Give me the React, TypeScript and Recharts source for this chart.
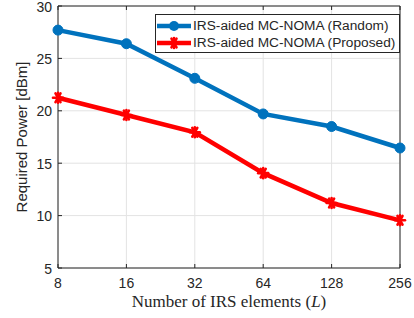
import React from "react"
import { CartesianGrid, Legend, Line, LineChart, XAxis, YAxis } from "recharts"

const elements = [8, 16, 32, 64, 128, 256]
const randomPower = [27.7, 26.4, 23.1, 19.7, 18.5, 16.45]
const proposedPower = [21.25, 19.6, 17.95, 14.05, 11.2, 9.55]
const yTicks = [5, 10, 15, 20, 25, 30]

const data = elements.map((L, i) => ({ L, random: randomPower[i], proposed: proposedPower[i] }))

const BLUE = "#0072BD"
const RED = "#FF0000"
const AXIS = "#262626"
const FONT = "'Liberation Sans', Arial, sans-serif"

const BottomTick = (props: any) => {
    const { x, y, payload } = props
    return (
        <g>
            <line x1={x} y1={y} x2={x} y2={y - 4} stroke={AXIS} strokeWidth={1} />
            <text x={x} y={y + 20} textAnchor="middle" fontSize={14} fontFamily={FONT} fill={AXIS}>
                {payload.value}
            </text>
        </g>
    )
}

const TopTick = (props: any) => {
    const { x, y } = props
    return <line x1={x} y1={y} x2={x} y2={y + 4} stroke={AXIS} strokeWidth={1} />
}

const LeftTick = (props: any) => {
    const { x, y, payload } = props
    return (
        <g>
            <line x1={x} y1={y} x2={x + 4} y2={y} stroke={AXIS} strokeWidth={1} />
            <text x={x - 6} y={y + 5.5} textAnchor="end" fontSize={14} fontFamily={FONT} fill={AXIS}>
                {payload.value}
            </text>
        </g>
    )
}

const RightTick = (props: any) => {
    const { x, y } = props
    return <line x1={x} y1={y} x2={x - 4} y2={y} stroke={AXIS} strokeWidth={1} />
}

const CircleDot = (props: any) => {
    const { cx, cy, index } = props
    return <circle key={`c-${index}`} cx={cx} cy={cy} r={5} fill={BLUE} stroke={BLUE} strokeWidth={1} />
}

const StarDot = (props: any) => {
    const { cx, cy, index } = props
    const r = 5
    const d = r * 0.866
    return (
        <g key={`s-${index}`} stroke={RED} strokeWidth={2.6} strokeLinecap="round">
            <line x1={cx - r} y1={cy} x2={cx + r} y2={cy} />
            <line x1={cx - r / 2} y1={cy - d} x2={cx + r / 2} y2={cy + d} />
            <line x1={cx - r / 2} y1={cy + d} x2={cx + r / 2} y2={cy - d} />
            <line x1={cx} y1={cy - r} x2={cx} y2={cy + r} />
        </g>
    )
}

const XLabel = () => (
    <text x={229} y={307} textAnchor="middle" fontSize={17} fontFamily="'Liberation Serif', 'DejaVu Serif', serif" fill={AXIS}>
        Number of IRS elements (<tspan fontStyle="italic">L</tspan>)
    </text>
)

const YLabel = () => (
    <text x={27} y={137} textAnchor="middle" fontSize={15} fontFamily={FONT} fill={AXIS} transform="rotate(-90 27 137)">
        Required Power [dBm]
    </text>
)

const legendItems = [
    { name: "IRS-aided MC-NOMA (Random)", color: BLUE, marker: "circle" },
    { name: "IRS-aided MC-NOMA (Proposed)", color: RED, marker: "star" },
]

const LegendBox = () => (
    <div
        style={{
            border: `1px solid ${AXIS}`,
            background: "#fff",
            padding: "2px 4px 1px 1px",
            fontFamily: FONT,
            fontSize: 13.7,
            color: AXIS,
            lineHeight: "17px",
        }}
    >
        {legendItems.map((item) => (
            <div key={item.name} style={{ display: "flex", alignItems: "center", whiteSpace: "nowrap" }}>
                <svg width={34} height={14} style={{ marginRight: 2 }}>
                    <line x1={0} y1={7} x2={34} y2={7} stroke={item.color} strokeWidth={4.5} />
                    {item.marker === "circle" ? (
                        <circle cx={17} cy={7} r={5} fill={item.color} />
                    ) : (
                        <StarDot cx={17} cy={7} index={0} />
                    )}
                </svg>
                <span>{item.name}</span>
            </div>
        ))}
    </div>
)

export default function App() {
    return (
        <div style={{ position: "absolute", left: 0, top: 0, width: 414, height: 318, background: "#fff" }}>
            <LineChart width={414} height={318} data={data} margin={{ top: 0, right: 0, left: 0, bottom: 0 }}>
                <CartesianGrid stroke="#e3e3e3" strokeWidth={1} />
                <XAxis
                    dataKey="L"
                    type="number"
                    scale="log"
                    domain={[8, 256]}
                    ticks={elements}
                    height={50}
                    stroke={AXIS}
                    tickSize={0}
                    tickMargin={0}
                    tick={<BottomTick />}
                    interval={0}
                    label={<XLabel />}
                />
                <XAxis
                    xAxisId="top"
                    dataKey="L"
                    type="number"
                    scale="log"
                    domain={[8, 256]}
                    ticks={elements}
                    orientation="top"
                    height={6}
                    stroke={AXIS}
                    tickSize={0}
                    tickMargin={0}
                    tick={<TopTick />}
                    interval={0}
                />
                <YAxis
                    type="number"
                    domain={[5, 30]}
                    ticks={yTicks}
                    width={58}
                    stroke={AXIS}
                    tickSize={0}
                    tickMargin={0}
                    tick={<LeftTick />}
                    interval={0}
                    label={<YLabel />}
                />
                <YAxis
                    yAxisId="right"
                    orientation="right"
                    type="number"
                    domain={[5, 30]}
                    ticks={yTicks}
                    width={14}
                    stroke={AXIS}
                    tickSize={0}
                    tickMargin={0}
                    tick={<RightTick />}
                    interval={0}
                />
                <Line
                    dataKey="random"
                    stroke={BLUE}
                    strokeWidth={4.5}
                    dot={<CircleDot />}
                    isAnimationActive={false}
                />
                <Line
                    dataKey="proposed"
                    stroke={RED}
                    strokeWidth={4.5}
                    dot={<StarDot />}
                    isAnimationActive={false}
                />
                <Legend
                    layout="vertical"
                    align="center"
                    verticalAlign="middle"
                    wrapperStyle={{ left: 155, top: 14, width: "auto" }}
                    content={<LegendBox />}
                />
            </LineChart>
        </div>
    )
}
